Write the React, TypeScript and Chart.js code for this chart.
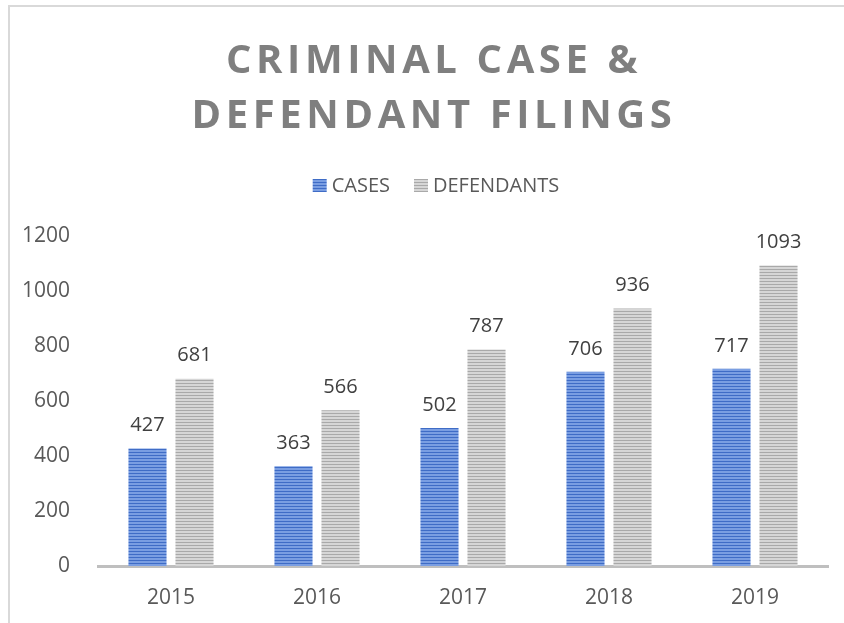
import React, { useEffect, useRef } from "react";
import { Chart, registerables } from "chart.js";

Chart.register(...registerables);

const categories = ["2015", "2016", "2017", "2018", "2019"];
const casesValues = [427, 363, 502, 706, 717];
const defendantsValues = [681, 566, 787, 936, 1093];
const seriesLabels = ["CASES", "DEFENDANTS"];
const titleLines = ["CRIMINAL CASE &", "DEFENDANT FILINGS"];
const yTicks = [0, 200, 400, 600, 800, 1000, 1200];

const FONT = "'Open Sans', 'Noto Sans', sans-serif";

function makeStripe(light: string, dark: string): CanvasPattern | string {
  const c = document.createElement("canvas");
  c.width = 4;
  c.height = 3;
  const g = c.getContext("2d");
  if (!g) return light;
  g.fillStyle = light;
  g.fillRect(0, 0, 4, 3);
  g.fillStyle = dark;
  g.fillRect(0, 2, 4, 1);
  const p = g.createPattern(c, "repeat");
  return p || light;
}

const titlePlugin = {
  id: "customTitle",
  afterDraw(chart: any) {
    const ctx = chart.ctx;
    ctx.save();
    ctx.font = `bold 40px ${FONT}`;
    ctx.fillStyle = "#7f7f7f";
    ctx.textAlign = "center";
    ctx.textBaseline = "middle";
    try {
      (ctx as any).letterSpacing = "4.6px";
    } catch (e) {}
    const cx = 434;
    ctx.fillText(titleLines[0], cx, 62);
    ctx.fillText(titleLines[1], cx, 117);
    ctx.restore();
  },
};

const legendPlugin = {
  id: "customLegend",
  afterDraw(chart: any) {
    const ctx = chart.ctx;
    ctx.save();
    ctx.font = `20px ${FONT}`;
    ctx.textBaseline = "middle";
    ctx.textAlign = "left";
    const box = 14;
    const gapBoxText = 5;
    const gapItems = 24;
    const ds = chart.data.datasets;
    const widths = ds.map((d: any) => box + gapBoxText + ctx.measureText(d.label).width);
    const total = widths.reduce((a: number, b: number) => a + b, 0) + gapItems * (ds.length - 1);
    let x = 436 - total / 2;
    const cy = 186;
    ds.forEach((d: any, i: number) => {
      ctx.fillStyle = d.backgroundColor;
      ctx.fillRect(x, cy - 7, box, 13);
      ctx.fillStyle = "#595959";
      ctx.fillText(d.label, x + box + gapBoxText, cy);
      x += widths[i] + gapItems;
    });
    ctx.restore();
  },
};

const valueLabelPlugin = {
  id: "valueLabels",
  afterDatasetsDraw(chart: any) {
    const ctx = chart.ctx;
    ctx.save();
    ctx.font = `20px ${FONT}`;
    ctx.fillStyle = "#404040";
    ctx.textAlign = "center";
    ctx.textBaseline = "middle";
    chart.data.datasets.forEach((ds: any, di: number) => {
      const meta = chart.getDatasetMeta(di);
      meta.data.forEach((bar: any, i: number) => {
        ctx.fillText(String(ds.data[i]), bar.x, bar.y - 23);
      });
    });
    ctx.restore();
  },
};

export default function App() {
  const ref = useRef<HTMLCanvasElement | null>(null);

  useEffect(() => {
    if (!ref.current) return;
    const blue = makeStripe("#7a9ee2", "#3f6cc6");
    const gray = makeStripe("#d6d6d6", "#a9a9a9");
    const chart = new Chart(ref.current, {
      type: "bar",
      data: {
        labels: categories,
        datasets: [
          {
            label: seriesLabels[0],
            data: casesValues,
            backgroundColor: blue as any,
            borderWidth: 0,
            barPercentage: 0.81,
            categoryPercentage: 0.644,
          },
          {
            label: seriesLabels[1],
            data: defendantsValues,
            backgroundColor: gray as any,
            borderWidth: 0,
            barPercentage: 0.81,
            categoryPercentage: 0.644,
          },
        ],
      },
      options: {
        responsive: false,
        animation: false,
        maintainAspectRatio: false,
        layout: { padding: { top: 236, left: 10, right: 16, bottom: 0 } },
        plugins: {
          title: { display: false },
          tooltip: { enabled: false },
          legend: { display: false },
        },
        scales: {
          x: {
            grid: { display: false, drawTicks: false },
            border: { display: true, color: "#bfbfbf", width: 3 },
            afterFit: (scale: any) => {
              scale.height = 57;
            },
            ticks: {
              color: "#595959",
              font: { family: FONT, size: 21 },
              padding: 19,
            },
          },
          y: {
            min: 0,
            max: 1200,
            grid: { display: false, drawTicks: false },
            border: { display: false },
            afterFit: (scale: any) => {
              scale.width = 88;
            },
            afterBuildTicks: (scale: any) => {
              scale.ticks = yTicks.map((v) => ({ value: v }));
            },
            ticks: {
              color: "#595959",
              font: { family: FONT, size: 21 },
              padding: 28,
              callback: (v: any) => String(v),
            },
          },
        },
      },
      plugins: [titlePlugin, legendPlugin, valueLabelPlugin],
    });
    return () => chart.destroy();
  }, []);

  return (
    <div style={{ position: "fixed", left: 0, top: 0, width: 844, height: 623, background: "#fff", overflow: "hidden" }}>
      <div
        style={{
          position: "absolute",
          left: 8,
          top: 5,
          width: 900,
          height: 700,
          borderLeft: "2px solid #d9d9d9",
          borderTop: "2px solid #d9d9d9",
        }}
      />
      <canvas ref={ref} width={844} height={623} style={{ position: "absolute", left: 0, top: 0 }} />
    </div>
  );
}
